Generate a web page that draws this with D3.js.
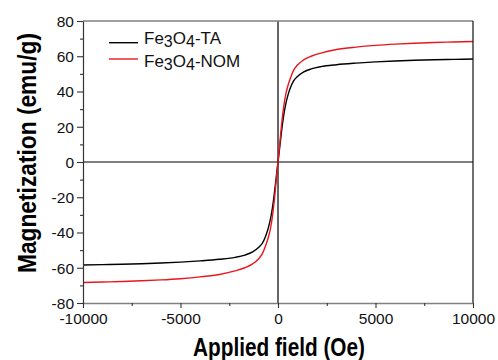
<!DOCTYPE html>
<html>
<head>
<meta charset="utf-8">
<script src="https://cdn.jsdelivr.net/npm/d3@7"></script>
<style>
  body { margin: 0; background: #fff; }
  svg { display: block; font-family: "Liberation Sans", Arial, sans-serif; }
</style>
</head>
<body>
<svg id="chart" width="498" height="360"></svg>
<script>
// applied field (Oe)
const field = [-10000, -9000, -8000, -7000, -6000, -5000, -4000, -3000, -2200, -1700, -1300, -1000,
  -800, -650, -500, -400, -300, -200, -100, 0, 100, 200, 300, 400, 500, 650, 800, 1000, 1300,
  1700, 2200, 3000, 4000, 5000, 6000, 7000, 8000, 9000, 10000];
// magnetization (emu/g)
const magTA = [-58.4, -58.2, -58.0, -57.7, -57.3, -56.8, -56.1, -55.2, -54.1, -52.8, -51.0, -48.5,
  -46.0, -42.5, -37.5, -33.0, -27.0, -19.0, -9.5, 0, 9.5, 19.0, 27.0, 33.0, 37.5, 42.5, 46.0, 48.5, 51.0,
  52.8, 54.1, 55.2, 56.1, 56.8, 57.3, 57.7, 58.0, 58.2, 58.4];
const magNOM = [-68.4, -68.1, -67.8, -67.4, -66.9, -66.2, -65.2, -63.8, -61.8, -60.0, -57.8, -55.0,
  -52.0, -48.0, -43.0, -38.5, -32.0, -23.0, -11.5, 0, 11.5, 23.0, 32.0, 38.5, 43.0, 48.0, 52.0, 55.0, 57.8,
  60.0, 61.8, 63.8, 65.2, 66.2, 66.9, 67.4, 67.8, 68.1, 68.4];

const xTicks = [-10000, -5000, 0, 5000, 10000];
const xMinor = [-7500, -2500, 2500, 7500];
const yTicks = [-80, -60, -40, -20, 0, 20, 40, 60, 80];
const yMinor = [-70, -50, -30, -10, 10, 30, 50, 70];

const seriesNames = ["TA", "NOM"];
const seriesColors = ["#000000", "#e8171f"];

const svg = d3.select("#chart");
const m = { left: 83, right: 473, top: 21, bottom: 303 };

const x = d3.scaleLinear().domain([-10000, 10000]).range([m.left, m.right]);
const y = d3.scaleLinear().domain([-80, 80]).range([m.bottom, m.top]);

// zero lines
svg.append("line")
  .attr("x1", x(0)).attr("x2", x(0)).attr("y1", m.top).attr("y2", m.bottom)
  .attr("stroke", "#000").attr("stroke-width", 1.2);
svg.append("line")
  .attr("x1", m.left).attr("x2", m.right).attr("y1", y(0)).attr("y2", y(0))
  .attr("stroke", "#000").attr("stroke-width", 1.2);

// curves
const line = d3.line()
  .x(d => x(d[0]))
  .y(d => y(d[1]))
  .curve(d3.curveMonotoneX);

[magTA, magNOM].forEach((vals, i) => {
  svg.append("path")
    .datum(field.map((f, j) => [f, vals[j]]))
    .attr("fill", "none")
    .attr("stroke", seriesColors[i])
    .attr("stroke-width", 1.4)
    .attr("d", line);
});

// frame
svg.append("line").attr("x1", m.left).attr("x2", m.right).attr("y1", m.top).attr("y2", m.top)
  .attr("stroke", "#808080").attr("stroke-width", 1.6);
svg.append("line").attr("x1", m.right).attr("x2", m.right).attr("y1", m.top).attr("y2", m.bottom)
  .attr("stroke", "#111").attr("stroke-width", 1.2);

// axes
const fmt = d => String(d);
const xAxis = svg.append("g")
  .attr("transform", `translate(0,${m.bottom})`)
  .call(d3.axisBottom(x).tickValues(xTicks).tickSize(5).tickSizeOuter(0).tickFormat(fmt));
svg.append("g")
  .attr("transform", `translate(0,${m.bottom})`)
  .call(d3.axisBottom(x).tickValues(xMinor).tickSize(3).tickSizeOuter(0).tickFormat(""))
  .call(g => g.select(".domain").remove());

const yAxis = svg.append("g")
  .attr("transform", `translate(${m.left},0)`)
  .call(d3.axisLeft(y).tickValues(yTicks).tickSize(6).tickSizeOuter(0).tickFormat(fmt));
svg.append("g")
  .attr("transform", `translate(${m.left},0)`)
  .call(d3.axisLeft(y).tickValues(yMinor).tickSize(3).tickSizeOuter(0).tickFormat(""))
  .call(g => g.select(".domain").remove());

xAxis.select(".domain").attr("stroke", "#808080").attr("stroke-width", 1.6);
yAxis.select(".domain").attr("stroke", "#333").attr("stroke-width", 1.2);
svg.selectAll(".tick line").attr("stroke", "#333").attr("stroke-width", 1.1);

xAxis.selectAll("text")
  .attr("font-family", "Liberation Sans, Arial, sans-serif")
  .attr("font-size", 15.5).attr("fill", "#111").attr("dy", "0.95em").attr("y", 6);
yAxis.selectAll("text")
  .attr("font-family", "Liberation Sans, Arial, sans-serif")
  .attr("font-size", 15.5).attr("fill", "#111").attr("x", -9).attr("dy", "0.34em");

// axis titles (the original font is narrow, so squeeze to the measured length)
svg.append("text")
  .attr("x", 279).attr("y", 356)
  .attr("text-anchor", "middle")
  .attr("font-size", 25).attr("font-weight", "bold").attr("fill", "#000")
  .attr("textLength", 172).attr("lengthAdjust", "spacingAndGlyphs")
  .text("Applied field (Oe)");
svg.append("text")
  .attr("transform", "translate(36,153) rotate(-90)")
  .attr("text-anchor", "middle")
  .attr("font-size", 26).attr("font-weight", "bold").attr("fill", "#000")
  .attr("textLength", 240).attr("lengthAdjust", "spacingAndGlyphs")
  .text("Magnetization (emu/g)");

// legend
const legendLineY = [42.7, 59];
const legendTextY = [43.5, 66.5];
const legend = svg.append("g");
seriesNames.forEach((name, i) => {
  legend.append("line")
    .attr("x1", 109).attr("x2", 138).attr("y1", legendLineY[i]).attr("y2", legendLineY[i])
    .attr("stroke", seriesColors[i]).attr("stroke-width", 1.4);
  const t = legend.append("text")
    .attr("x", 144).attr("y", legendTextY[i])
    .attr("font-size", 17).attr("fill", "#111");
  t.append("tspan").text("Fe");
  t.append("tspan").attr("dy", 3.5).attr("font-size", 16).text("3");
  t.append("tspan").attr("dy", -3.5).text("O");
  t.append("tspan").attr("dy", 3.5).attr("font-size", 16).text("4");
  t.append("tspan").attr("dy", -3.5).text("-" + name);
});
</script>
</body>
</html>
